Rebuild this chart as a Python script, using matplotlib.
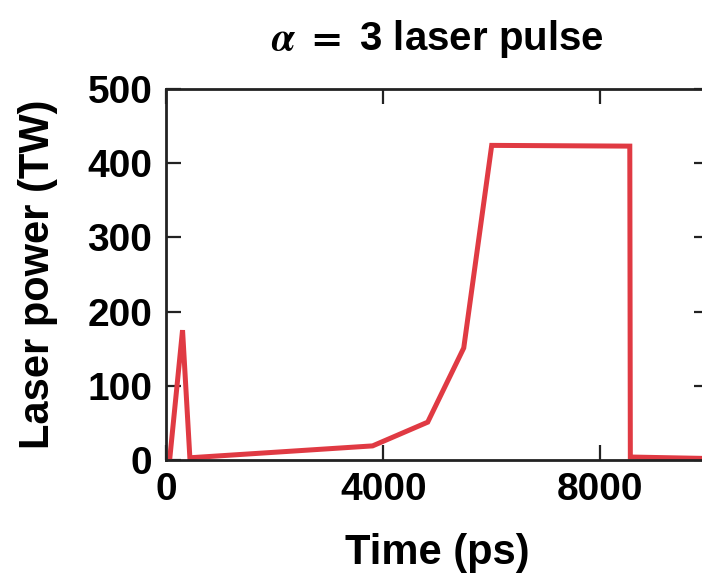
import matplotlib
matplotlib.use('Agg')
import matplotlib.pyplot as plt

# Laser pulse shape
time_ps = [60, 298, 433, 3800, 4816, 5480, 5995, 8540, 8550, 10000]
power_tw = [0, 175, 3, 19, 51, 151, 424, 423, 4, 2]

x_ticks = [0, 4000, 8000]
y_ticks = [0, 100, 200, 300, 400, 500]

plt.rcParams['font.family'] = ['Liberation Sans', 'DejaVu Sans']
plt.rcParams['font.weight'] = 'bold'
plt.rcParams['mathtext.fontset'] = 'stix'

fig = plt.figure(figsize=(7.02, 5.76), dpi=100)
ax = fig.add_axes([0.237, 0.2014, 0.773, 0.6441])

ax.plot(time_ps, power_tw, color='#e03a43', linewidth=3.6, solid_joinstyle='miter')

ax.set_xlim(0, 10000)
ax.set_ylim(0, 500)
ax.set_xticks(x_ticks)
ax.set_yticks(y_ticks)

for s in ax.spines.values():
    s.set_linewidth(2.0)
    s.set_color('#222222')

ax.tick_params(direction='in', length=11, width=1.6, color='#222222',
               top=True, right=True, labelsize=28)
ax.tick_params(axis='x', pad=9)
ax.tick_params(axis='y', pad=10)

ax.set_xlabel('Time (ps)', fontsize=30, fontweight='bold', labelpad=18)
ax.set_ylabel('Laser power (TW)', fontsize=30, fontweight='bold', labelpad=21)
ax.set_title(r'$\alpha$ $=$ 3 laser pulse', fontsize=29, fontweight='bold', pad=28)

fig.savefig('out.png', dpi=100)
